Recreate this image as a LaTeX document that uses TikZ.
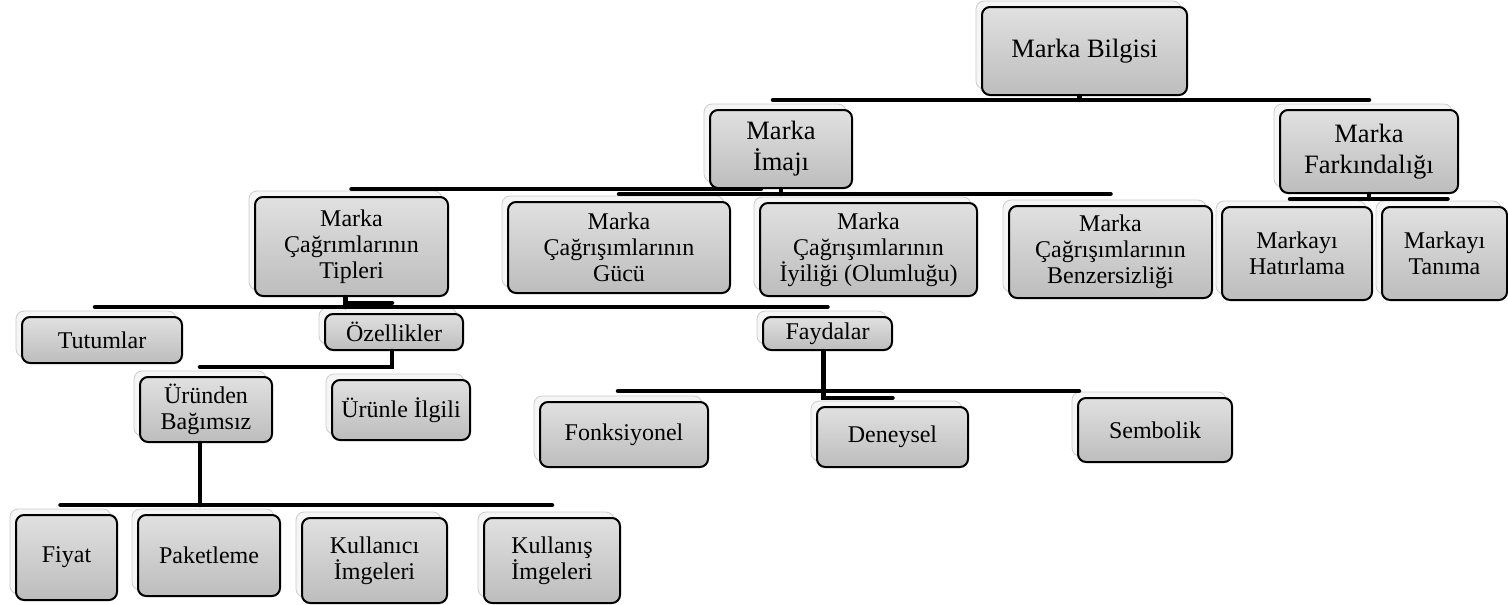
\documentclass[tikz,border=0pt]{standalone}
\usepackage{fontspec}
\setmainfont{Liberation Serif}
\usetikzlibrary{shadows}
\tikzset{
  box/.style={draw=black, line width=2pt, rounded corners=8pt,
    top color=black!12, bottom color=black!26, inner sep=0pt, align=center,
    font=\fontsize{24}{26}\selectfont,
    general shadow={shadow xshift=-6pt, shadow yshift=6pt, fill=black!4, draw=black!20, line width=0.8pt}},
  bigbox/.style={box, font=\fontsize{26.5}{31}\selectfont},
  bus/.style={line width=4.5pt, line cap=round},
}
\begin{document}
\begin{tikzpicture}[x=1pt, y=-1pt]
\useasboundingbox (0,0) rectangle (1508,605);
% level 1
\node[bigbox, minimum width=205pt, minimum height=88pt] (bilgi) at (1084.5,51) {Marka Bilgisi};
% level 2
\node[bigbox, minimum width=142pt, minimum height=78pt] (imaji) at (781,149) {Marka\\İmajı};
\node[bigbox, minimum width=178pt, minimum height=83pt] (fark) at (1369,151.5) {Marka\\Farkındalığı};
% level 3
\node[box, minimum width=193pt, minimum height=99pt] (tipleri) at (351.5,246.5) {Marka\\Çağrımlarının\\Tipleri};
\node[box, minimum width=222pt, minimum height=91pt] (gucu) at (619,247.5) {Marka\\Çağrışımlarının\\Gücü};
\node[box, minimum width=217pt, minimum height=93pt] (iyi) at (868.5,249.5) {Marka\\Çağrışımlarının\\İyiliği (Olumluğu)};
\node[box, minimum width=203pt, minimum height=92pt] (benz) at (1110.5,252) {Marka\\Çağrışımlarının\\Benzersizliği};
\node[box, minimum width=150pt, minimum height=93pt] (hatir) at (1297,253.5) {Markayı\\Hatırlama};
\node[box, minimum width=125pt, minimum height=93pt] (tanima) at (1444.5,253.5) {Markayı\\Tanıma};
% level 4
\node[box, minimum width=160pt, minimum height=46pt] (tutum) at (102,340) {Tutumlar};
\node[box, minimum width=138pt, minimum height=36pt] (ozel) at (394,332) {Özellikler};
\node[box, minimum width=129pt, minimum height=33pt] (fayda) at (827.5,333.5) {Faydalar};
% level 5
\node[box, minimum width=132pt, minimum height=65pt] (urunden) at (206,409.5) {Üründen\\Bağımsız};
\node[box, minimum width=138pt, minimum height=60pt] (urunle) at (401,410) {Ürünle İlgili};
\node[box, minimum width=168pt, minimum height=65pt] (fonk) at (624,434.5) {Fonksiyonel};
\node[box, minimum width=151pt, minimum height=60pt] (deney) at (892.5,437) {Deneysel};
\node[box, minimum width=154pt, minimum height=64pt] (sembol) at (1155,430) {Sembolik};
% level 6
\node[box, minimum width=101pt, minimum height=85pt] (fiyat) at (66.5,557.5) {Fiyat};
\node[box, minimum width=142pt, minimum height=81pt] (paket) at (209,555.5) {Paketleme};
\node[box, minimum width=145pt, minimum height=85pt] (kullanici) at (374.5,560.5) {Kullanıcı\\İmgeleri};
\node[box, minimum width=136pt, minimum height=85pt] (kullanis) at (552,560.5) {Kullanış\\İmgeleri};
% bus levels
\coordinate (L1) at (0,100);
\coordinate (L2a) at (0,189);
\coordinate (L2b) at (0,194);
\coordinate (L2c) at (0,199);
\coordinate (L3a) at (0,303);
\coordinate (L3b) at (0,307);
\coordinate (L4a) at (0,367);
\coordinate (L4b) at (0,391);
\coordinate (L4c) at (0,398);
\coordinate (L5) at (0,505);
% connectors
\draw[bus] ([xshift=-5pt]bilgi.south) -- ([xshift=-5pt]bilgi.south |- L1);
\draw[bus] ([xshift=-8pt]imaji.north |- L1) -- (fark.north |- L1);
\draw[bus] (imaji.south) -- (imaji.south |- L2b);
\draw[bus] (tipleri.north |- L2a) -- ([xshift=-20pt]imaji.south |- L2a);
\draw[bus] (gucu.north |- L2b) -- (benz.north |- L2b);
\draw[bus] (fark.south) -- (fark.south |- L2c);
\draw[bus] ([xshift=-7pt]hatir.north |- L2c) -- ([xshift=3pt]tanima.north |- L2c);
\draw[bus] ([xshift=-6pt]tipleri.south) -- ([xshift=-6pt]tipleri.south |- L3b);
\draw[bus] ([xshift=-6pt]tipleri.south |- L3a) -- ([xshift=-2pt]ozel.north |- L3a);
\draw[bus] ([xshift=-7pt]tutum.north |- L3b) -- (fayda.north |- L3b);
\draw[bus] ([xshift=-2pt]ozel.south) -- ([xshift=-2pt]ozel.south |- L4a) -- ([xshift=-6pt]urunden.north |- L4a);
\draw[bus] ([xshift=-4pt]fayda.south) -- ([xshift=-4pt]fayda.south |- L4c) -- (deney.north |- L4c);
\draw[bus] ([xshift=-6pt]fonk.north |- L4b) -- ([xshift=2pt]sembol.north west |- L4b);
\draw[bus] ([xshift=-6pt]urunden.south) -- ([xshift=-6pt]urunden.south |- L5);
\draw[bus] ([xshift=-6pt]fiyat.north |- L5) -- (kullanis.north |- L5);
\end{tikzpicture}
\end{document}
